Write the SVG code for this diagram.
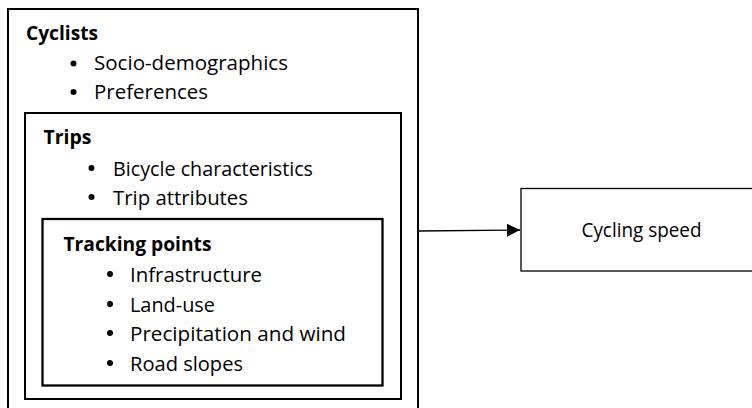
<svg xmlns="http://www.w3.org/2000/svg" width="752" height="408" viewBox="0 0 752 408">
  <style>
    .box { fill: none; stroke: #000; stroke-width: 2; }
    .thin { fill: #fff; stroke: #000; stroke-width: 1.3; }
    text { font-family: "Open Sans", "Noto Sans", sans-serif; font-size: 19.5px; fill: #000; }
    .h { font-weight: bold; }
    .dot { fill: #000; }
    .conn { stroke: #000; stroke-width: 1.4; fill: none; }
  </style>
  <defs>
    <marker id="arrow" markerWidth="14" markerHeight="14" refX="13" refY="6.5" orient="auto" markerUnits="userSpaceOnUse">
      <path d="M0,0 L13,6.5 L0,13 Z" fill="#000"/>
    </marker>
  </defs>
  <rect width="752" height="408" fill="#fff"/>

  <g id="cyclists">
    <rect class="box" x="8" y="9" width="410" height="410"/>
    <text class="h" x="26" y="40" textLength="72" lengthAdjust="spacingAndGlyphs">Cyclists</text>
    <circle class="dot" cx="73.5" cy="63.5" r="3"/>
    <text x="94" y="70" textLength="194" lengthAdjust="spacingAndGlyphs">Socio-demographics</text>
    <circle class="dot" cx="73.5" cy="92" r="3"/>
    <text x="94" y="98.5" textLength="114" lengthAdjust="spacingAndGlyphs">Preferences</text>
  </g>

  <g id="trips">
    <rect class="box" x="25" y="113" width="376" height="286"/>
    <text class="h" x="43.5" y="144" textLength="48" lengthAdjust="spacingAndGlyphs">Trips</text>
    <circle class="dot" cx="91.5" cy="168" r="3"/>
    <text x="113" y="176" textLength="200" lengthAdjust="spacingAndGlyphs">Bicycle characteristics</text>
    <circle class="dot" cx="91.5" cy="197" r="3"/>
    <text x="113" y="204.5" textLength="135" lengthAdjust="spacingAndGlyphs">Trip attributes</text>
  </g>

  <g id="tracking-points">
    <rect class="box" x="42.5" y="219" width="340" height="166.5" style="stroke-width:2.3"/>
    <text class="h" x="63.5" y="251" textLength="148" lengthAdjust="spacingAndGlyphs">Tracking points</text>
    <circle class="dot" cx="110" cy="274" r="3"/>
    <text x="130" y="281.5" textLength="132" lengthAdjust="spacingAndGlyphs">Infrastructure</text>
    <circle class="dot" cx="110" cy="304" r="3"/>
    <text x="130" y="311.5" textLength="85" lengthAdjust="spacingAndGlyphs">Land-use</text>
    <circle class="dot" cx="110" cy="333" r="3"/>
    <text x="130" y="340.5" textLength="216" lengthAdjust="spacingAndGlyphs">Precipitation and wind</text>
    <circle class="dot" cx="110" cy="363" r="3"/>
    <text x="130" y="370.5" textLength="113" lengthAdjust="spacingAndGlyphs">Road slopes</text>
  </g>

  <g id="cycling-speed">
    <rect class="thin" x="521" y="188.5" width="242" height="82.5"/>
    <text x="581.5" y="236.5" textLength="120" lengthAdjust="spacingAndGlyphs">Cycling speed</text>
  </g>

  <g id="connectors">
    <path class="conn" d="M419,231 L520,230" marker-end="url(#arrow)"/>
  </g>
</svg>
